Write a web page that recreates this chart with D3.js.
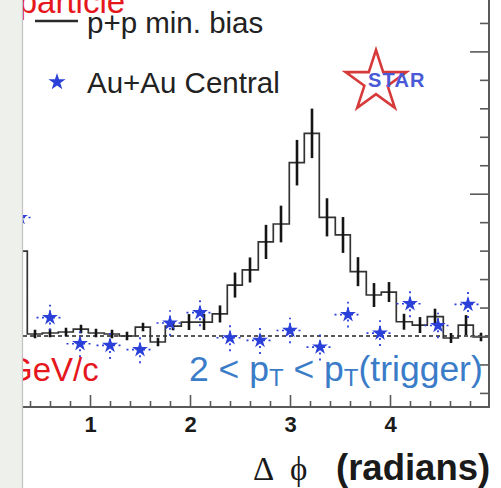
<!DOCTYPE html>
<html>
<head>
<meta charset="utf-8">
<script src="https://cdn.jsdelivr.net/npm/d3@7"></script>
<style>
  body { margin: 0; background: #fff; }
  svg { display: block; }
</style>
</head>
<body>
<script>
// p+p minimum-bias reference: bin centres (radians), per-trigger yield, stat. error
const ppPhi   = [0.29, 0.45, 0.60, 0.76, 0.91, 1.06, 1.22, 1.37, 1.53, 1.68,
                 1.83, 1.99, 2.14, 2.30, 2.45, 2.60, 2.76, 2.91, 3.07, 3.22,
                 3.37, 3.53, 3.68, 3.84, 3.99, 4.14, 4.30, 4.45, 4.61, 4.76, 4.91];
const ppYield = [0.0597, 0.0014, 0.0021, 0.0028, 0.0049, 0.0021, 0.0014, 0.0000, 0.0063, -0.0042,
                 0.0070, 0.0098, 0.0098, 0.0155, 0.0358, 0.0464, 0.0661, 0.0787, 0.1218, 0.1424,
                 0.0834, 0.0710, 0.0452, 0.0288, 0.0309, 0.0100, 0.0077, 0.0136, -0.0014, 0.0077, -0.0007];
const ppErr   = [0.006, 0.003, 0.003, 0.003, 0.003, 0.003, 0.003, 0.003, 0.003, 0.003,
                 0.003, 0.0056, 0.0056, 0.006, 0.0088, 0.0088, 0.012, 0.0129, 0.016, 0.0174,
                 0.0134, 0.0126, 0.0102, 0.0084, 0.007, 0.0056, 0.0056, 0.0056, 0.0035, 0.007, 0.003];
const ppBinWidth = 0.154;

// Au+Au central: point positions (radians), yield, stat. error
const auPhi   = [0.30, 0.60, 0.90, 1.20, 1.50, 1.80, 2.10, 2.40, 2.70, 3.00,
                 3.30, 3.58, 3.90, 4.20, 4.48, 4.78];
const auYield = [0.0833, 0.0129, -0.0054, -0.0066, -0.0096, 0.0091, 0.0164, -0.0012, -0.0031, 0.0039,
                 -0.0078, 0.0150, 0.0020, 0.0227, 0.0074, 0.0222];
const auErr   = [0.0095, 0.0090, 0.0095, 0.0095, 0.0095, 0.0090, 0.0095, 0.0095, 0.0095, 0.0090,
                 0.0095, 0.0090, 0.0090, 0.0095, 0.0090, 0.0095];
const auHalfWidth = 0.135;

// Axis ticks
const xMajorTicks = [1, 2, 3, 4];
const xTickLabels = ["1", "2", "3", "4"];
const xMinorTicks = [0.4, 0.6, 0.8, 1.2, 1.4, 1.6, 1.8, 2.2, 2.4, 2.6, 2.8,
                     3.2, 3.4, 3.6, 3.8, 4.2, 4.4, 4.6, 4.8];
const yMajorTicks = [0, 0.1, 0.2];
const yMinorTicks = [-0.04, -0.02, 0.02, 0.04, 0.06, 0.08, 0.12, 0.14, 0.16, 0.18, 0.22];

const legendLabels = ["p+p min. bias", "Au+Au Central"];

const W = 501, H = 488;
const plot = { left: 22, right: 489, bottom: 407, top: 0 };
const phiMin = 0.32, phiMax = 4.99;

const x = d3.scaleLinear().domain([0, 5]).range([-10, 490]);
const y = d3.scaleLinear().domain([0, 0.1]).range([336, 193.7]);

const svg = d3.select("body").append("svg")
  .attr("width", W).attr("height", H)
  .attr("font-family", "'Liberation Sans', Arial, Helvetica, sans-serif");

svg.append("defs").append("clipPath").attr("id", "plotArea")
  .append("rect")
  .attr("x", plot.left).attr("y", plot.top)
  .attr("width", plot.right - plot.left).attr("height", plot.bottom - plot.top);

const g = svg.append("g").attr("clip-path", "url(#plotArea)");

// zero line
g.append("line")
  .attr("x1", x(phiMin) - 20).attr("x2", x(phiMax))
  .attr("y1", y(0)).attr("y2", y(0))
  .attr("stroke", "#222").attr("stroke-width", 1.6)
  .attr("stroke-dasharray", "4,3");

// p+p histogram outline
const steps = ppPhi.map((c, i) => [c - ppBinWidth / 2, ppYield[i]]);
steps.push([ppPhi[ppPhi.length - 1] + ppBinWidth / 2, ppYield[ppYield.length - 1]]);
g.append("path")
  .attr("d", d3.line().x(d => x(d[0])).y(d => y(d[1])).curve(d3.curveStepAfter)(steps))
  .attr("fill", "none").attr("stroke", "#333").attr("stroke-width", 1.7);

// p+p error bars
g.selectAll("line.pperr").data(ppPhi).join("line")
  .attr("class", "pperr")
  .attr("x1", d => x(d)).attr("x2", d => x(d))
  .attr("y1", (d, i) => y(ppYield[i] - ppErr[i]))
  .attr("y2", (d, i) => y(ppYield[i] + ppErr[i]))
  .attr("stroke", "#151515").attr("stroke-width", 2.6);

// Au+Au dotted error bars
const auColor = "#2b3fd9";
const au = g.selectAll("g.au").data(auPhi).join("g").attr("class", "au");
au.append("line")
  .attr("x1", d => x(d - auHalfWidth)).attr("x2", d => x(d + auHalfWidth))
  .attr("y1", (d, i) => y(auYield[i])).attr("y2", (d, i) => y(auYield[i]))
  .attr("stroke", auColor).attr("stroke-width", 1.6).attr("stroke-dasharray", "2,3.5");
au.append("line")
  .attr("x1", d => x(d)).attr("x2", d => x(d))
  .attr("y1", (d, i) => y(auYield[i] - auErr[i])).attr("y2", (d, i) => y(auYield[i] + auErr[i]))
  .attr("stroke", auColor).attr("stroke-width", 1.8).attr("stroke-dasharray", "2,4");
au.append("path")
  .attr("d", d3.symbol(d3.symbolStar, 78)())
  .attr("transform", (d, i) => `translate(${x(d)},${y(auYield[i])})`)
  .attr("fill", auColor);

// frame lines
const frameColor = "#5a5a5a";
svg.append("line").attr("x1", plot.left).attr("x2", plot.right + 1)
  .attr("y1", plot.bottom).attr("y2", plot.bottom)
  .attr("stroke", frameColor).attr("stroke-width", 2);
svg.append("line").attr("x1", plot.right).attr("x2", plot.right)
  .attr("y1", plot.top).attr("y2", plot.bottom + 1)
  .attr("stroke", frameColor).attr("stroke-width", 2);

// bottom axis: major ticks with labels, minor ticks
const xAxisMajor = d3.axisBottom(x).tickValues(xMajorTicks)
  .tickSizeInner(-12).tickSizeOuter(0).tickPadding(9)
  .tickFormat((d, i) => xTickLabels[i]);
const xa = svg.append("g").attr("transform", `translate(0,${plot.bottom})`).call(xAxisMajor);
xa.select(".domain").remove();
xa.selectAll("line").attr("stroke", frameColor).attr("stroke-width", 1.6);
xa.selectAll("text").attr("font-size", 22).attr("font-weight", "bold")
  .attr("fill", "#1a1a1a").attr("font-family", "'Liberation Sans', Arial, sans-serif");

const xAxisMinor = d3.axisBottom(x).tickValues(xMinorTicks)
  .tickSizeInner(-6).tickSizeOuter(0).tickFormat("");
const xm = svg.append("g").attr("transform", `translate(0,${plot.bottom})`).call(xAxisMinor);
xm.select(".domain").remove();
xm.selectAll("line").attr("stroke", frameColor).attr("stroke-width", 1.6);

// right axis ticks
const yAxisMajor = d3.axisRight(y).tickValues(yMajorTicks)
  .tickSizeInner(-19).tickSizeOuter(0).tickFormat("");
const ya = svg.append("g").attr("transform", `translate(${plot.right},0)`).call(yAxisMajor);
ya.select(".domain").remove();
ya.selectAll("line").attr("stroke", frameColor).attr("stroke-width", 1.6);

const yAxisMinor = d3.axisRight(y).tickValues(yMinorTicks)
  .tickSizeInner(-9).tickSizeOuter(0).tickFormat("");
const ym = svg.append("g").attr("transform", `translate(${plot.right},0)`).call(yAxisMinor);
ym.select(".domain").remove();
ym.selectAll("line").attr("stroke", frameColor).attr("stroke-width", 1.6);

// legend
svg.append("line").attr("x1", 35).attr("x2", 78).attr("y1", 21).attr("y2", 21)
  .attr("stroke", "#2a2a2a").attr("stroke-width", 2.6);
svg.append("text").attr("x", 87).attr("y", 33).attr("font-size", 29.5)
  .attr("fill", "#222").text(legendLabels[0]);
svg.append("path").attr("d", d3.symbol(d3.symbolStar, 92)())
  .attr("transform", "translate(57,82)").attr("fill", auColor);
svg.append("text").attr("x", 87).attr("y", 93).attr("font-size", 29.5)
  .attr("fill", "#222").text(legendLabels[1]);

// STAR logo
svg.append("path").attr("d", d3.symbol(d3.symbolStar, 1150)())
  .attr("transform", "translate(376,82)")
  .attr("fill", "none").attr("stroke", "#d63a3a").attr("stroke-width", 2.6)
  .attr("stroke-linejoin", "miter");
svg.append("text").attr("x", 368).attr("y", 87).attr("font-size", 20)
  .attr("font-weight", "bold").attr("letter-spacing", 1.2)
  .attr("fill", "#4a59d6").text("STAR");

// kinematic labels
const red = "#e5171d";
svg.append("text").attr("x", 18.7).attr("y", 13).attr("font-size", 33)
  .attr("fill", red).text("particle");
svg.append("text").attr("x", 7).attr("y", 381).attr("font-size", 33)
  .attr("fill", red).text("GeV/c");

const blue = "#3a7cc8";
const assoc = svg.append("text").attr("x", 189).attr("y", 381)
  .attr("font-size", 35.5).attr("fill", blue);
assoc.append("tspan").text("2 < p");
assoc.append("tspan").attr("font-size", 24).attr("dy", 5).text("T");
assoc.append("tspan").attr("dy", -5).text(" < p");
assoc.append("tspan").attr("font-size", 24).attr("dy", 5).text("T");
assoc.append("tspan").attr("dy", -5).text("(trigger)");

// axis title
const serif = "'Liberation Serif', 'DejaVu Serif', 'Times New Roman', serif";
const title = svg.append("text").attr("y", 480).attr("fill", "#1a1a1a");
title.append("tspan").attr("x", 253).attr("font-size", 33)
  .attr("font-family", serif).text("Δ");
title.append("tspan").attr("x", 290).attr("font-size", 33)
  .attr("font-family", serif).text("ϕ");
title.append("tspan").attr("x", 336).attr("font-size", 36.5)
  .attr("font-weight", "bold").text("(radians)");

// window edge strip at the left
svg.append("rect").attr("x", 0).attr("y", 0).attr("width", 22).attr("height", H)
  .attr("fill", "#eef0eb");
svg.append("line").attr("x1", 22.5).attr("x2", 22.5).attr("y1", 0).attr("y2", H)
  .attr("stroke", "#c2c2c2").attr("stroke-width", 1.2);
</script>
</body>
</html>
